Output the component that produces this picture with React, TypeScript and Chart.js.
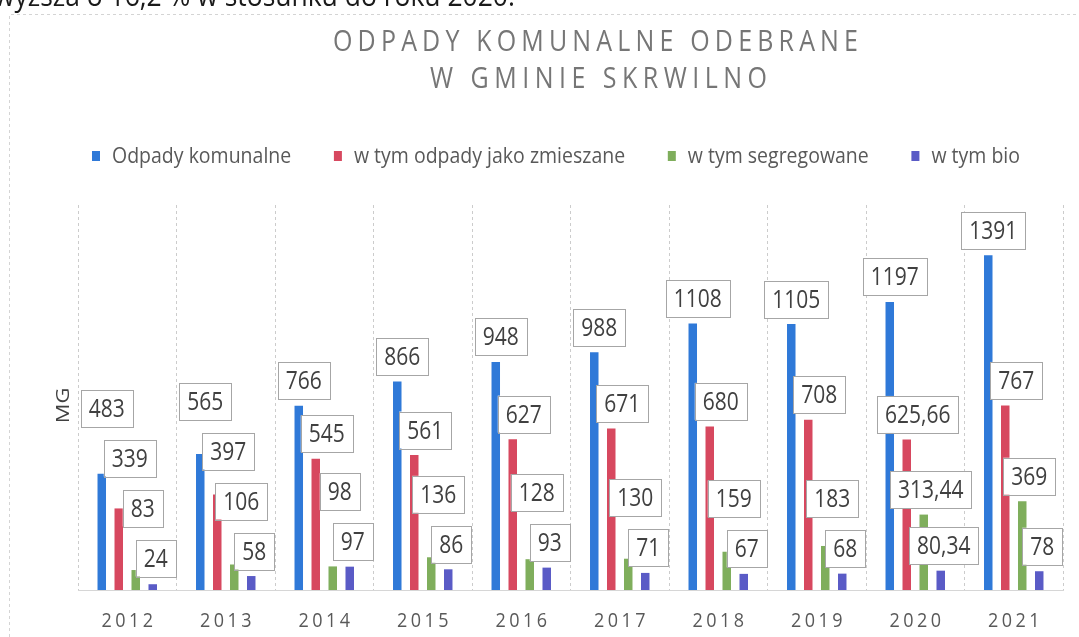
import React, { useEffect, useRef } from 'react';
import { Chart, registerables } from 'chart.js';

Chart.register(...registerables);

// ---- data ----
const years = ['2012', '2013', '2014', '2015', '2016', '2017', '2018', '2019', '2020', '2021'];
const seriesNames = ['Odpady komunalne', 'w tym odpady jako zmieszane', 'w tym segregowane', 'w tym bio'];
const komunalne = [483, 565, 766, 866, 948, 988, 1108, 1105, 1197, 1391];
const zmieszane = [339, 397, 545, 561, 627, 671, 680, 708, 625.66, 767];
const segregowane = [83, 106, 98, 136, 128, 130, 159, 183, 313.44, 369];
const bio = [24, 58, 97, 86, 93, 71, 67, 68, 80.34, 78];
const titleLines = ['ODPADY KOMUNALNE ODEBRANE', 'W GMINIE SKRWILNO'];
const yAxisTitle = 'MG';
const pageText = 'wyższa o 16,2 % w stosunku do roku 2020.';

const seriesValues = [komunalne, zmieszane, segregowane, bio];
const colors = ['#2F79D8', '#D7485F', '#7FAE5C', '#5A5BC6'];
const labelOffsetX = [5, 11, 7, 3];

const FONT = '"Open Sans", "Noto Sans", sans-serif';

function fmt(v: number): string {
  return String(v).replace('.', ',');
}

function drawStretched(ctx: CanvasRenderingContext2D, text: string, x: number, y: number, sy: number) {
  ctx.save();
  ctx.translate(x, y);
  ctx.scale(1, sy);
  ctx.fillText(text, 0, 0);
  ctx.restore();
}

function drawSpaced(ctx: CanvasRenderingContext2D, text: string, x: number, y: number, targetW: number, sy = 1) {
  (ctx as any).letterSpacing = '0px';
  const w = ctx.measureText(text).width;
  const n = Array.from(text).length;
  const sp = n > 1 ? (targetW - w) / (n - 1) : 0;
  (ctx as any).letterSpacing = sp + 'px';
  ctx.textAlign = 'left';
  drawStretched(ctx, text, x, y, sy);
  (ctx as any).letterSpacing = '0px';
}

const decorPlugin = {
  id: 'decor',
  afterDatasetsDraw(chart: any) {
    const ctx: CanvasRenderingContext2D = chart.ctx;
    ctx.save();
    ctx.font = `21px ${FONT}`;
    ctx.textAlign = 'center';
    ctx.textBaseline = 'alphabetic';
    years.forEach((_, i) => {
      let nextY = Infinity;
      const pos: { x: number; y: number }[] = [];
      for (let s = seriesValues.length - 1; s >= 0; s--) {
        const bar = chart.getDatasetMeta(s).data[i];
        let y = bar.y - 25;
        y = Math.min(y, nextY - 50, 558);
        nextY = y;
        pos[s] = { x: bar.x + labelOffsetX[s], y };
      }
      for (let s = 0; s < seriesValues.length; s++) {
        const txt = fmt(seriesValues[s][i]);
        const w = ctx.measureText(txt).width + 16;
        const h = 37;
        const { x, y } = pos[s];
        ctx.fillStyle = '#ffffff';
        ctx.fillRect(x - w / 2, y - h / 2, w, h);
        ctx.strokeStyle = '#a6a6a6';
        ctx.lineWidth = 1;
        ctx.strokeRect(Math.round(x - w / 2) + 0.5, Math.round(y - h / 2) + 0.5, Math.round(w), h);
        ctx.fillStyle = '#404040';
        drawStretched(ctx, txt, x, y + 8.5, 1.18);
      }
    });
    ctx.restore();
  },
  afterDraw(chart: any) {
    const ctx: CanvasRenderingContext2D = chart.ctx;
    const area = chart.chartArea;
    const xScale = chart.scales.x;
    ctx.save();

    // page text (partially cut off at the top)
    ctx.fillStyle = '#1a1a1a';
    ctx.textBaseline = 'alphabetic';
    ctx.textAlign = 'left';
    ctx.font = `24px ${FONT}`;
    const pw = ctx.measureText(pageText).width;
    const psize = 24 * 521 / pw;
    ctx.font = `${psize}px ${FONT}`;
    drawStretched(ctx, pageText, -6, 6, 1.1);

    // chart frame (dotted)
    ctx.strokeStyle = '#d4d4d4';
    ctx.lineWidth = 1;
    ctx.setLineDash([3, 3]);
    ctx.beginPath();
    ctx.moveTo(9.5, 637);
    ctx.lineTo(9.5, 14.5);
    ctx.lineTo(1079, 14.5);
    ctx.stroke();
    ctx.setLineDash([]);

    // title
    ctx.fillStyle = '#767676';
    ctx.textBaseline = 'alphabetic';
    ctx.font = `25px ${FONT}`;
    drawSpaced(ctx, titleLines[0], 333, 51, 525, 1.15);
    drawSpaced(ctx, titleLines[1], 430, 88, 337, 1.15);

    // legend
    ctx.font = `19.5px ${FONT}`;
    const boxW = 8, boxH = 10, boxGap = 12;
    const widths = seriesNames.map((n) => boxW + boxGap + ctx.measureText(n).width);
    const left = 92, right = 1020;
    const total = widths.reduce((a, b) => a + b, 0);
    const gap = (right - left - total) / (seriesNames.length - 1);
    let lx = left;
    seriesNames.forEach((n, s) => {
      ctx.fillStyle = colors[s];
      ctx.fillRect(lx, 151, boxW, boxH);
      ctx.fillStyle = '#595959';
      ctx.textAlign = 'left';
      ctx.textBaseline = 'alphabetic';
      drawStretched(ctx, n, lx + boxW + boxGap, 163, 1.12);
      lx += widths[s] + gap;
    });

    // x labels
    ctx.fillStyle = '#595959';
    years.forEach((y, i) => {
      const cx = xScale.getPixelForValue(i);
      ctx.font = `18px ${FONT}`;
      (ctx as any).letterSpacing = '0px';
      const w0 = ctx.measureText(y).width;
      const sp = 3.5;
      const tw = w0 + sp * (y.length - 1);
      drawSpaced(ctx, y, cx - tw / 2, 627, tw, 1.1);
    });

    // y axis title
    ctx.save();
    ctx.translate(area.left - 14, (area.top + area.bottom) / 2 + 8);
    ctx.rotate(-Math.PI / 2);
    ctx.fillStyle = '#404040';
    ctx.font = `19px ${FONT}`;
    ctx.textAlign = 'center';
    ctx.textBaseline = 'middle';
    ctx.scale(1.15, 1);
    ctx.fillText(yAxisTitle, 0, 0);
    ctx.restore();

    ctx.restore();
  },
};

export default function App() {
  const canvasRef = useRef<HTMLCanvasElement | null>(null);

  useEffect(() => {
    document.body.style.margin = '0';
    const canvas = canvasRef.current;
    if (!canvas) return;
    const chart = new Chart(canvas, {
      type: 'bar',
      data: {
        labels: years,
        datasets: seriesNames.map((name, s) => ({
          label: name,
          data: seriesValues[s],
          backgroundColor: colors[s],
          borderWidth: 0,
          categoryPercentage: 0.69,
          barPercentage: 0.5,
        })),
      },
      options: {
        responsive: false,
        animation: false,
        devicePixelRatio: 1,
        layout: { padding: { left: 78, right: 16, top: 205, bottom: 47 } },
        plugins: {
          legend: { display: false },
          title: { display: false },
          tooltip: { enabled: false },
        },
        scales: {
          x: {
            grid: { offset: true, color: '#cccccc', drawTicks: false, lineWidth: 1 },
            border: { display: true, color: '#d6d6d6', dash: [3, 3] },
            ticks: { display: false },
          },
          y: { display: false, min: 0, max: 1600 },
        },
      },
      plugins: [decorPlugin],
    } as any);
    return () => chart.destroy();
  }, []);

  return (
    <div style={{ position: 'relative', width: 1079, height: 637, background: '#ffffff' }}>
      <canvas ref={canvasRef} width={1079} height={637} style={{ display: 'block' }} />
    </div>
  );
}
